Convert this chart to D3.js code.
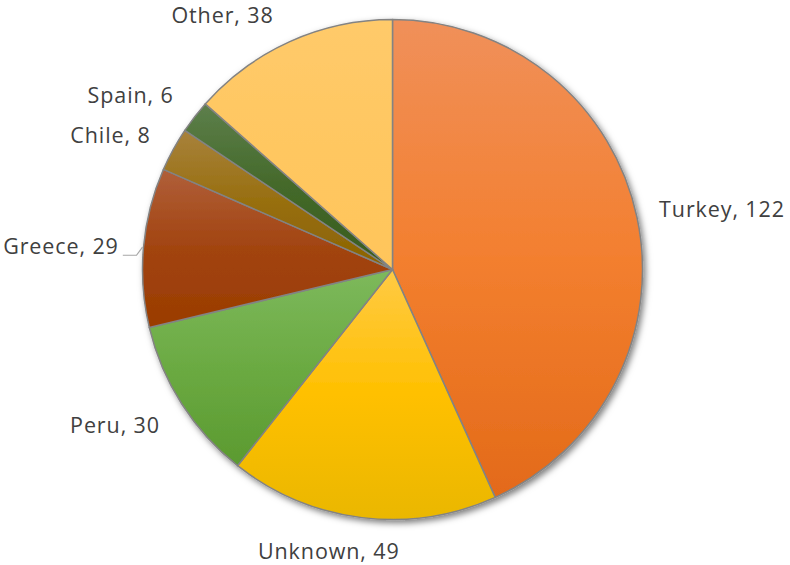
<!DOCTYPE html>
<html><head><meta charset="utf-8">
<script src="https://cdn.jsdelivr.net/npm/d3@7"></script>
<style>html,body{margin:0;padding:0;background:#fff;}svg{display:block;}</style>
</head><body>
<svg id="chart" width="790" height="565"></svg>
<script>
const categories = ["Turkey", "Unknown", "Peru", "Greece", "Chile", "Spain", "Other"];
const values = [122, 49, 30, 29, 8, 6, 38];
const topColors = ["#F0905A", "#FFCA45", "#7DB95C", "#B05F3A", "#A8823C", "#5D7F4B", "#FFCA6A"];
const midColors = ["#F37F2F", "#FFC000", "#6BAA42", "#A24410", "#986F10", "#44692A", "#FFC761"];
const bottomColors = ["#E36A19", "#EAB700", "#5B9A30", "#9A3C00", "#8A6200", "#375B1C", "#FFC55A"];
// label nudges (layout only)
const labelNudge = [[4,-2],[-22,6],[-12,6],[-5,1],[-10,-1],[-14,-4],[-38,-1]];

const svg = d3.select("#chart");
const cx = 392.5, cy = 269.5, r = 250;
const defs = svg.append("defs");
const f = defs.append("filter").attr("id","shadow").attr("x","-20%").attr("y","-20%").attr("width","140%").attr("height","140%");
f.append("feDropShadow").attr("dx",2.5).attr("dy",3).attr("stdDeviation",3).attr("flood-color","#000").attr("flood-opacity",0.5);

categories.forEach((c,i)=>{
  const g = defs.append("linearGradient").attr("id","g"+i).attr("x1",0).attr("y1",0).attr("x2",0).attr("y2",1);
  g.append("stop").attr("offset","0").attr("stop-color",topColors[i]);
  g.append("stop").attr("offset","0.5").attr("stop-color",midColors[i]);
  g.append("stop").attr("offset","1").attr("stop-color",bottomColors[i]);
});

const pie = d3.pie().sort(null).value(d=>d)(values);
const arc = d3.arc().innerRadius(0).outerRadius(r);
const g = svg.append("g").attr("transform",`translate(${cx},${cy})`);
g.append("g").attr("filter","url(#shadow)").selectAll("path").data(pie).join("path")
  .attr("d",arc).attr("fill",(d,i)=>`url(#g${i})`)
  .attr("stroke","#838383").attr("stroke-width",1.5).attr("stroke-linejoin","round");

const R = 270;
const lab = svg.append("g").attr("font-family","'Open Sans', sans-serif").attr("font-size",21.5).attr("fill","#404040");
pie.forEach((d,i)=>{
  const a = (d.startAngle + d.endAngle)/2;
  const t = lab.append("text").text(categories[i] + ", " + values[i])
     .attr("text-anchor","middle").attr("letter-spacing","0.9px");
  const w = t.node().getComputedTextLength();
  const h = 16;
  const px = cx + R*Math.sin(a) + w/2*Math.sin(a) + labelNudge[i][0];
  const py = cy - R*Math.cos(a) - h/2*Math.cos(a) + labelNudge[i][1];
  t.attr("x",px).attr("y",py + 7.8);
  if (categories[i] === "Greece") {
    const ax = cx + (r+1)*Math.sin(a), ay = cy - (r+1)*Math.cos(a);
    const lx = px + w/2 + 4, ly = py + 9.5;
    svg.append("polyline").attr("points",`${lx},${ly} ${ax-6},${ly} ${ax},${ay}`)
      .attr("fill","none").attr("stroke","#a6a6a6").attr("stroke-width",1.2);
  }
});
</script>
</body></html>
